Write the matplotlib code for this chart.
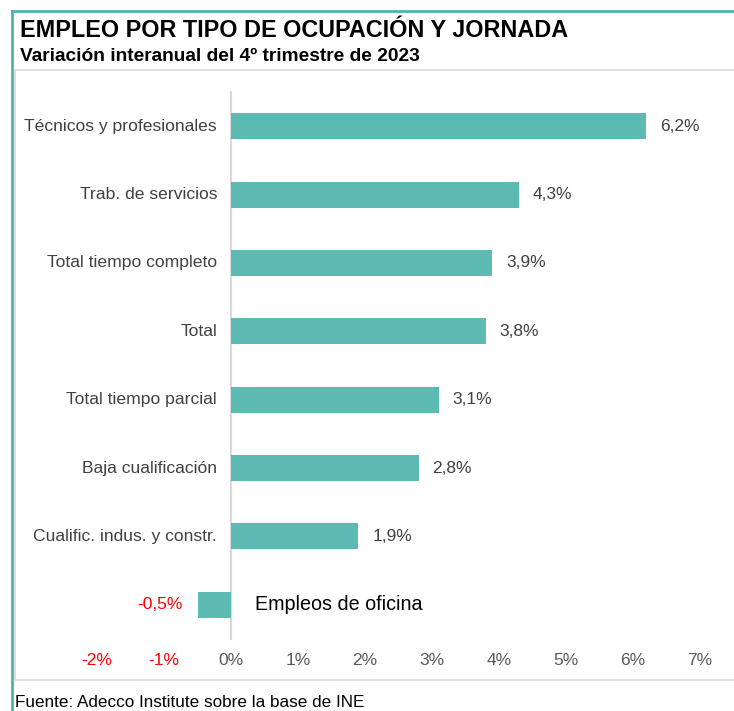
import matplotlib
matplotlib.use("Agg")
import matplotlib.pyplot as plt
from matplotlib.patches import Rectangle
from matplotlib.lines import Line2D

categories = ["Técnicos y profesionales", "Trab. de servicios", "Total tiempo completo",
              "Total", "Total tiempo parcial", "Baja cualificación",
              "Cualific. indus. y constr.", "Empleos de oficina"]
values = [6.2, 4.3, 3.9, 3.8, 3.1, 2.8, 1.9, -0.5]
value_labels = ["6,2%", "4,3%", "3,9%", "3,8%", "3,1%", "2,8%", "1,9%", "-0,5%"]
xticks = [-2, -1, 0, 1, 2, 3, 4, 5, 6, 7]
xtick_labels = ["-2%", "-1%", "0%", "1%", "2%", "3%", "4%", "5%", "6%", "7%"]

plt.rcParams['font.family'] = ['Liberation Sans', 'DejaVu Sans']

W, H = 734, 711
fig = plt.figure(figsize=(W / 100, H / 100), dpi=100)

def fx(px):
    return px / W

def fy(py):
    return 1 - py / H

teal = "#5DBAB3"
border_teal = "#4FB3AC"

# outer border (left and top)
fig.add_artist(Line2D([fx(12), fx(12)], [fy(11), fy(711)], color=border_teal, lw=2, transform=fig.transFigure))
fig.add_artist(Line2D([fx(12), fx(734)], [fy(11), fy(11)], color=border_teal, lw=2, transform=fig.transFigure))
# inner gray box
fig.add_artist(Rectangle((fx(15), fy(680)), fx(734) - fx(15) + 0.01, fy(70) - fy(680),
                         fill=False, edgecolor="#D9D9D9", lw=1.2, transform=fig.transFigure))

fig.text(fx(20), fy(37), "EMPLEO POR TIPO DE OCUPACIÓN Y JORNADA", fontsize=16.8,
         fontweight="bold", color="black", va="baseline", ha="left")
fig.text(fx(20), fy(61), "Variación interanual del 4º trimestre de 2023", fontsize=13.8,
         fontweight="bold", color="black", va="baseline", ha="left")
fig.text(fx(15), fy(707), "Fuente: Adecco Institute sobre la base de INE", fontsize=12.3,
         color="black", va="baseline", ha="left")

ax = fig.add_axes([fx(97), fy(639), fx(700) - fx(97), fy(92) - fy(639)])
ypos = list(range(len(categories)))
ax.barh(ypos, values, height=0.38, color=teal, edgecolor="none")
ax.set_xlim(-2, 7)
ax.set_ylim(len(categories) - 0.5, -0.5)
for s in ax.spines.values():
    s.set_visible(False)
ax.plot([0, 0], [-0.5, 7.5], color="#D9D9D9", lw=1.5, zorder=0, clip_on=False)
ax.set_yticks([])
ax.set_xticks(xticks)
ax.set_xticklabels(xtick_labels)
ax.tick_params(axis="x", length=0, pad=10, labelsize=12.5, labelcolor="#595959")
for t, v in zip(ax.get_xticklabels(), xticks):
    if v < 0:
        t.set_color("#FF0000")

for y, v, lab, cat in zip(ypos, values, value_labels, categories):
    if v >= 0:
        ax.annotate(cat, (0, y), xytext=(-10, 0), textcoords="offset points",
                    ha="right", va="center", fontsize=12.6, color="#404040")
        ax.annotate(lab, (v, y), xytext=(10, 0), textcoords="offset points",
                    ha="left", va="center", fontsize=12.5, color="#404040")
    else:
        ax.annotate(cat, (0, y), xytext=(17.5, 0), textcoords="offset points",
                    ha="left", va="center", fontsize=14.2, color="black")
        ax.annotate(lab, (v, y), xytext=(-10.5, 0), textcoords="offset points",
                    ha="right", va="center", fontsize=12.5, color="#FF0000")

fig.savefig("out.png", dpi=100)
